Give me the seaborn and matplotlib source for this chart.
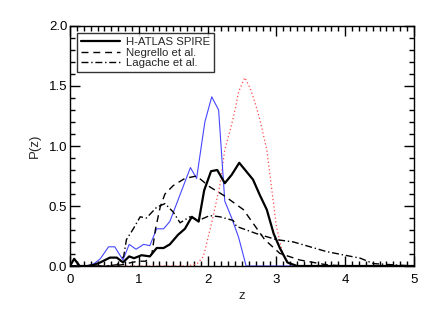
import numpy as np
import pandas as pd
import matplotlib
matplotlib.use('Agg')
import matplotlib.pyplot as plt
from matplotlib.ticker import MultipleLocator
import seaborn as sns

# redshift distributions
z_spire = [0.0, 0.06, 0.14, 0.25, 0.35, 0.44, 0.58, 0.68, 0.77, 0.86, 0.93, 1.04, 1.16,
           1.26, 1.36, 1.45, 1.57, 1.67, 1.77, 1.87, 1.95, 2.05, 2.14, 2.25, 2.35, 2.46,
           2.66, 2.76, 2.86, 2.96, 3.05, 3.16, 3.3, 3.5, 5.0]
p_spire = [0.0, 0.06, 0.0, 0.0, 0.01, 0.03, 0.07, 0.07, 0.03, 0.08, 0.065, 0.09, 0.08,
           0.15, 0.15, 0.18, 0.26, 0.31, 0.41, 0.37, 0.63, 0.79, 0.80, 0.69, 0.76, 0.86,
           0.72, 0.59, 0.47, 0.27, 0.15, 0.03, 0.0, 0.0, 0.0]

z_negrello = [0.0, 0.6, 0.75, 0.9, 1.0, 1.1, 1.19, 1.24, 1.31, 1.38, 1.5, 1.67, 1.84,
              2.03, 2.23, 2.52, 2.83, 3.05, 3.34, 3.73, 4.0, 5.0]
p_negrello = [0.0, 0.0, 0.01, 0.03, 0.04, 0.04, 0.10, 0.30, 0.49, 0.60, 0.67, 0.73, 0.75,
              0.66, 0.59, 0.47, 0.22, 0.105, 0.05, 0.01, 0.0, 0.0]

z_lagache = [0.0, 0.5, 0.68, 0.78, 0.82, 0.92, 1.02, 1.11, 1.26, 1.38, 1.5, 1.6, 1.74,
             1.87, 2.03, 2.18, 2.37, 2.42, 2.71, 3.0, 3.25, 3.73, 4.22, 4.41, 4.7, 5.0]
p_lagache = [0.0, 0.0, 0.01, 0.08, 0.22, 0.31, 0.41, 0.40, 0.49, 0.52, 0.45, 0.36, 0.41,
             0.38, 0.42, 0.41, 0.38, 0.33, 0.27, 0.22, 0.20, 0.12, 0.065, 0.02, 0.01, 0.0]

z_blue = [0.0, 0.25, 0.35, 0.44, 0.56, 0.65, 0.77, 0.86, 0.96, 1.07, 1.16, 1.26, 1.36,
          1.45, 1.55, 1.65, 1.75, 1.84, 1.96, 2.06, 2.16, 2.25, 2.35, 2.45, 2.56, 5.0]
p_blue = [0.0, 0.0, 0.02, 0.06, 0.16, 0.16, 0.05, 0.18, 0.14, 0.18, 0.17, 0.31, 0.31,
          0.37, 0.52, 0.67, 0.82, 0.73, 1.20, 1.41, 1.30, 0.54, 0.40, 0.24, 0.0, 0.0]

z_red = [0.0, 1.7, 1.85, 1.94, 2.08, 2.18, 2.25, 2.35, 2.41, 2.45, 2.54, 2.62, 2.69,
         2.76, 2.86, 2.93, 3.0, 3.1, 3.2, 3.3, 5.0]
p_red = [0.0, 0.0, 0.02, 0.08, 0.41, 0.68, 0.97, 1.18, 1.33, 1.45, 1.57, 1.48, 1.36,
         1.22, 0.97, 0.65, 0.33, 0.08, 0.01, 0.0, 0.0]

sns.set_style('ticks')
plt.rcParams['font.family'] = ['Liberation Sans', 'DejaVu Sans']

fig, ax = plt.subplots(figsize=(4.36, 3.12), dpi=100)
fig.subplots_adjust(left=0.1606, right=0.9495, top=0.9167, bottom=0.1474)

def draw(z, p, **kw):
    df = pd.DataFrame({'z': z, 'P': p})
    sns.lineplot(data=df, x='z', y='P', ax=ax, sort=False, errorbar=None, **kw)

draw(z_red, p_red, color='#ff4a4a', lw=0.9, linestyle=(0, (1, 2)))
draw(z_blue, p_blue, color='#4646ff', lw=0.8)
draw(z_spire, p_spire, color='black', lw=1.6, label='H-ATLAS SPIRE')
draw(z_negrello, p_negrello, color='black', lw=1.0, linestyle=(0, (5, 3.5)),
     label='Negrello et al.')
draw(z_lagache, p_lagache, color='black', lw=1.0, linestyle=(0, (5, 2, 1, 2)),
     label='Lagache et al.')

ax.set_xlim(0, 5)
ax.set_ylim(0, 2.0)
ax.xaxis.set_major_locator(MultipleLocator(1))
ax.xaxis.set_minor_locator(MultipleLocator(0.1))
ax.yaxis.set_major_locator(MultipleLocator(0.5))
ax.yaxis.set_minor_locator(MultipleLocator(0.1))
ax.set_yticklabels([f'{v:.1f}' for v in ax.get_yticks()])

ax.tick_params(which='both', direction='in', top=True, right=True, color='black',
               width=1.0, labelsize=9.5, labelcolor='black')
ax.tick_params(which='major', length=7)
ax.tick_params(which='minor', length=3.5)
ax.tick_params(axis='x', which='major', pad=6)
ax.tick_params(axis='y', which='major', pad=2)
for s in ax.spines.values():
    s.set_linewidth(1.0)
    s.set_color('black')

ax.set_xlabel('z', fontsize=9.5)
ax.set_ylabel('P(z)', fontsize=9.5)
ax.xaxis.set_label_coords(0.5, -0.1)
ax.yaxis.set_label_coords(-0.085, 0.5)

handles, labels = ax.get_legend_handles_labels()
leg = ax.legend(handles, labels, loc='upper left', bbox_to_anchor=(0.02, 0.971),
                borderaxespad=0, fontsize=8.2, handlelength=3.4, handletextpad=0.55,
                labelspacing=0.05, borderpad=0.35, frameon=True, fancybox=False)
leg.get_frame().set_edgecolor('black')
leg.get_frame().set_linewidth(1.0)

fig.savefig('out.png', dpi=100)
